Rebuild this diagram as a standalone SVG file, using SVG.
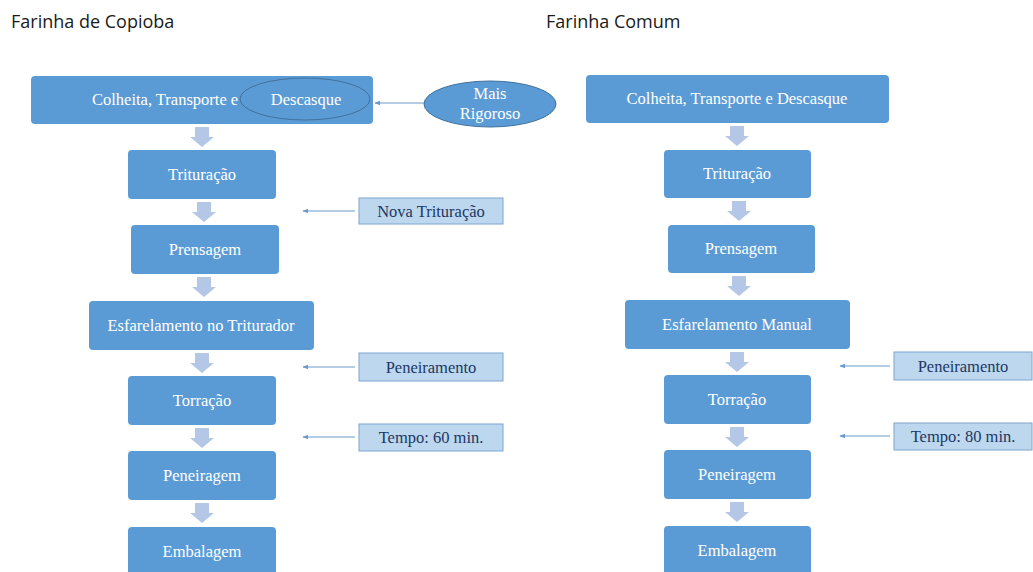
<svg xmlns="http://www.w3.org/2000/svg" width="1033" height="572" viewBox="0 0 1033 572">
<defs>
<style>
.title{font-family:"Open Sans","Noto Sans",sans-serif;font-size:18px;fill:#1a1a1a}
.box{fill:#5b9bd5}
.bt{font-family:"Liberation Serif","Times New Roman","DejaVu Serif",serif;font-size:16.5px;fill:#ffffff;text-anchor:middle}
.note{fill:#bdd7ee;stroke:#7ea6d0;stroke-width:1}
.nt{font-family:"Liberation Serif","Times New Roman","DejaVu Serif",serif;font-size:16.5px;fill:#203864;text-anchor:middle}
.fat{fill:#b4c7e7}
.thin{stroke:#6a9bcc;stroke-width:1.2;fill:none;marker-end:url(#ah)}
.ell{fill:#5b9bd5;stroke:#41719c;stroke-width:1}
</style>
<marker id="ah" viewBox="0 0 10 10" refX="9" refY="5" markerWidth="5" markerHeight="5" orient="auto">
<path d="M0,1 L10,5 L0,9 Z" fill="#6a9bcc"/>
</marker>
<path id="fa" d="M-7,0 H7 V10 H12 L0,20 L-12,10 H-7 Z"/>
</defs>
<rect width="1033" height="572" fill="#ffffff"/>
<text class="title" x="11" y="28">Farinha de Copioba</text>
<text class="title" x="546" y="28">Farinha Comum</text>

<g id="connectors">
<g class="fat">
<use href="#fa" x="202" y="127"/>
<use href="#fa" x="204" y="202"/>
<use href="#fa" x="204" y="277"/>
<use href="#fa" x="202" y="353"/>
<use href="#fa" x="202" y="428"/>
<use href="#fa" x="202" y="503"/>
<use href="#fa" x="737" y="126"/>
<use href="#fa" x="739" y="201"/>
<use href="#fa" x="739" y="276"/>
<use href="#fa" x="737" y="352"/>
<use href="#fa" x="737" y="427"/>
<use href="#fa" x="737" y="502"/>
</g>
<line class="thin" x1="425" y1="103" x2="375" y2="103"/>
<line class="thin" x1="355" y1="211" x2="303" y2="211"/>
<line class="thin" x1="355" y1="367" x2="303" y2="367"/>
<line class="thin" x1="355" y1="437" x2="303" y2="437"/>
<line class="thin" x1="890" y1="366" x2="840" y2="366"/>
<line class="thin" x1="890" y1="436" x2="840" y2="436"/>
</g>

<g id="l1"><rect class="box" x="31" y="76" width="342" height="48" rx="4"/><text class="bt" x="92" y="105" style="text-anchor:start">Colheita, Transporte e</text></g>
<g id="l1e"><ellipse class="ell" cx="305" cy="99" rx="65" ry="21"/><text class="bt" x="306" y="105">Descasque</text></g>
<g id="mais"><ellipse class="ell" cx="490" cy="104" rx="66" ry="23"/><text class="bt" x="490" y="99">Mais</text><text class="bt" x="490" y="119">Rigoroso</text></g>
<g id="l2"><rect class="box" x="128" y="150" width="148" height="49" rx="4"/><text class="bt" x="202" y="180">Trituração</text></g>
<g id="n1"><rect class="note" x="359" y="198" width="144" height="26"/><text class="nt" x="431" y="217">Nova Trituração</text></g>
<g id="l3"><rect class="box" x="131" y="225" width="148" height="49" rx="4"/><text class="bt" x="205" y="255">Prensagem</text></g>
<g id="l4"><rect class="box" x="89" y="301" width="225" height="49" rx="4"/><text class="bt" x="201" y="331">Esfarelamento no Triturador</text></g>
<g id="n2"><rect class="note" x="359" y="353" width="144" height="28"/><text class="nt" x="431" y="373">Peneiramento</text></g>
<g id="l5"><rect class="box" x="128" y="376" width="148" height="49" rx="4"/><text class="bt" x="202" y="406">Torração</text></g>
<g id="n3"><rect class="note" x="359" y="424" width="144" height="27"/><text class="nt" x="431" y="443">Tempo: 60 min.</text></g>
<g id="l6"><rect class="box" x="128" y="451" width="148" height="49" rx="4"/><text class="bt" x="202" y="481">Peneiragem</text></g>
<g id="l7"><rect class="box" x="128" y="527" width="148" height="52" rx="4"/><text class="bt" x="202" y="557">Embalagem</text></g>

<g id="r1"><rect class="box" x="586" y="75" width="303" height="48" rx="4"/><text class="bt" x="737" y="104">Colheita, Transporte e Descasque</text></g>
<g id="r2"><rect class="box" x="664" y="150" width="147" height="48" rx="4"/><text class="bt" x="737" y="179">Trituração</text></g>
<g id="r3"><rect class="box" x="668" y="225" width="147" height="48" rx="4"/><text class="bt" x="741" y="254">Prensagem</text></g>
<g id="r4"><rect class="box" x="625" y="300" width="225" height="49" rx="4"/><text class="bt" x="737" y="330">Esfarelamento Manual</text></g>
<g id="rn1"><rect class="note" x="894" y="352" width="138" height="28"/><text class="nt" x="963" y="372">Peneiramento</text></g>
<g id="r5"><rect class="box" x="664" y="375" width="147" height="49" rx="4"/><text class="bt" x="737" y="405">Torração</text></g>
<g id="rn2"><rect class="note" x="894" y="423" width="138" height="27"/><text class="nt" x="963" y="442">Tempo: 80 min.</text></g>
<g id="r6"><rect class="box" x="664" y="450" width="147" height="49" rx="4"/><text class="bt" x="737" y="480">Peneiragem</text></g>
<g id="r7"><rect class="box" x="664" y="526" width="147" height="52" rx="4"/><text class="bt" x="737" y="556">Embalagem</text></g>
</svg>
